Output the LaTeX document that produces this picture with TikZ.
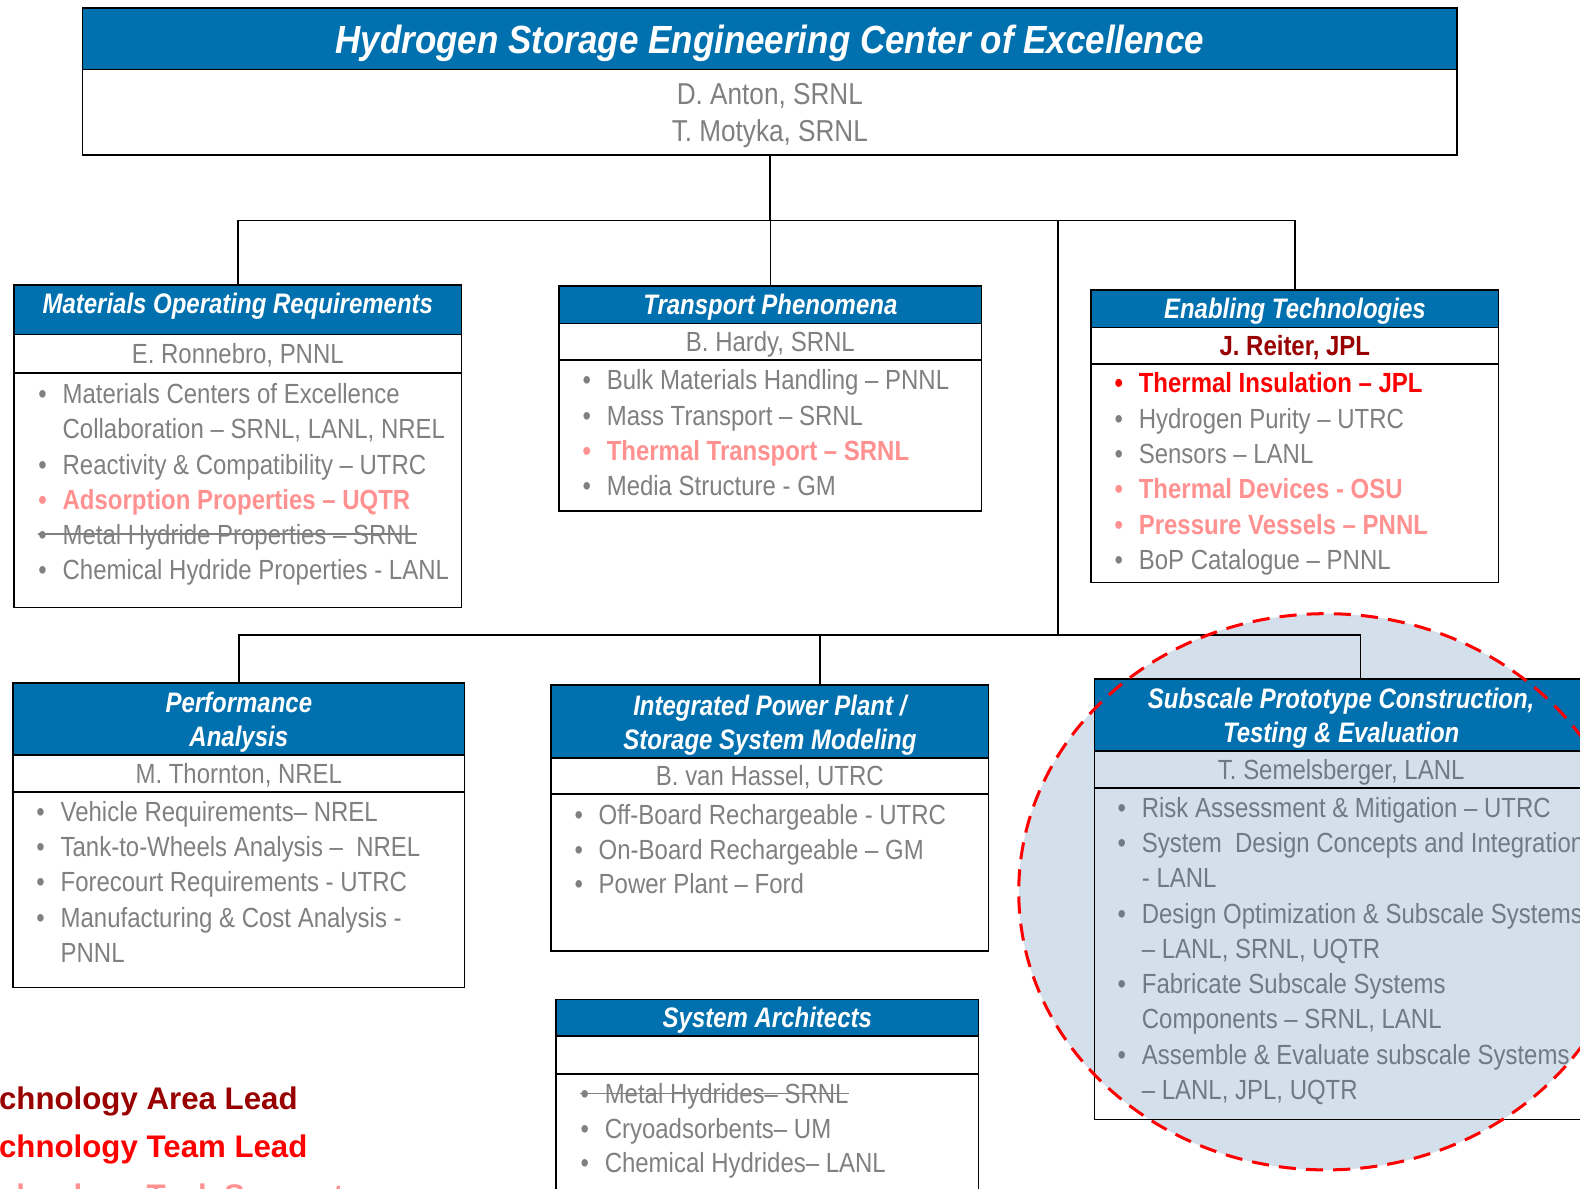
\documentclass[tikz,border=0pt]{standalone}
\usepackage{fontspec}
\setmainfont[FakeStretch=0.865]{Liberation Sans}
\newfontfamily\hdrfam[FakeStretch=0.85]{Liberation Sans}
\newfontfamily\ttlfont[FakeStretch=0.89]{Liberation Sans}
\newfontfamily\legfont{Liberation Sans}

\definecolor{hdrblue}{RGB}{0,112,175}
\definecolor{txtgray}{RGB}{128,128,128}
\definecolor{taskpink}{RGB}{255,145,145}
\definecolor{teamred}{RGB}{255,0,0}
\definecolor{areared}{RGB}{153,0,0}
\definecolor{spcfill}{RGB}{211,223,235}
\definecolor{spcgray}{RGB}{112,122,134}

\newcommand{\bodyfont}{\fontsize{27.5}{35}\selectfont}
\newcommand{\hdrfont}{\hdrfam\fontsize{28}{34}\selectfont\bfseries\itshape}
\newcommand{\bul}{\makebox[24pt][l]{\textbullet}}
\newcommand{\nob}{\hspace*{24pt}}
\newcommand{\lift}{\rule{0pt}{27pt}}

\tikzset{
	box/.style={draw=black, line width=1.6pt, inner sep=0pt, outer sep=0pt, anchor=north west},
	hdr/.style={box, fill=hdrblue, text=white, font=\hdrfont, align=center},
	who/.style={box, fill=white, text=txtgray, font=\bodyfont, align=center},
	one/.style={text height=20pt, text depth=0pt},
	lst/.style={box, fill=white},
	itm/.style={anchor=west, inner sep=0pt, text height=20pt, text depth=0pt, font=\bodyfont, text=txtgray},
	task/.style={itm, text=taskpink, font=\bodyfont\bfseries},
	wire/.style={draw=black, line width=1.6pt},
	gone/.style={draw=txtgray, line width=1.4pt},
	legend/.style={anchor=west, inner sep=0pt, text height=22pt, text depth=0pt, font=\legfont\fontsize{31}{31}\selectfont\bfseries},
}

\begin{document}
\begin{tikzpicture}[x=1pt,y=-1pt]
	\useasboundingbox (0,0) rectangle (1568,1179);
	\clip (0,0) rectangle (1568,1179);

	% highlight behind the prototype group
	\fill[spcfill] (1316,885) ellipse [x radius=305pt, y radius=276pt];

	% bus points
	\coordinate (bus1) at (764,219);
	\coordinate (bus2) at (1050,630);
	\coordinate (ipp-in) at (814,680);
	\coordinate (spc-in) at (1350,674);

	% center
	\node[hdr, minimum width=1364pt, minimum height=61pt, text height=29pt, text depth=0pt, font=\ttlfont\fontsize{39}{39}\selectfont\bfseries\itshape] (top-h) at (82,8) {Hydrogen Storage Engineering Center of Excellence};
	\node[who, minimum width=1364pt, minimum height=85pt, font=\fontsize{30}{37}\selectfont] (top-n) at (top-h.south west) {\rule{0pt}{28pt}D. Anton, SRNL\\T. Motyka, SRNL};

	% upper row
	\node[hdr, minimum width=444pt, minimum height=49pt, text height=20pt, text depth=12pt] (mor-h) at (14,283) {Materials Operating Requirements};
	\node[who, one, minimum width=444pt, minimum height=38pt] (mor-n) at (mor-h.south west) {E. Ronnebro, PNNL};
	\node[lst, minimum width=444pt, minimum height=233pt] (mor-b) at (mor-n.south west) {};

	\node[hdr, one, minimum width=419pt, minimum height=37pt] (tp-h) at (555,284) {Transport Phenomena};
	\node[who, one, minimum width=419pt, minimum height=36pt] (tp-n) at (tp-h.south west) {B. Hardy, SRNL};
	\node[lst, minimum width=419pt, minimum height=150pt] (tp-b) at (tp-n.south west) {};

	\node[hdr, one, minimum width=404pt, minimum height=37pt] (et-h) at (1083,288) {Enabling Technologies};
	\node[who, one, minimum width=404pt, minimum height=36pt, text=areared, font=\bodyfont\bfseries] (et-n) at (et-h.south west) {J. Reiter, JPL};
	\node[lst, minimum width=404pt, minimum height=217pt] (et-b) at (et-n.south west) {};

	% lower row
	\node[hdr, minimum width=448pt, minimum height=71pt] (pa-h) at (13,678) {\lift Performance\\Analysis};
	\node[who, one, minimum width=448pt, minimum height=37pt] (pa-n) at (pa-h.south west) {M. Thornton, NREL};
	\node[lst, minimum width=448pt, minimum height=194pt] (pa-b) at (pa-n.south west) {};

	\node[hdr, minimum width=434pt, minimum height=72pt] (ipp-h) at (547,680) {\lift Integrated Power Plant /\\Storage System Modeling};
	\node[who, one, minimum width=434pt, minimum height=36pt] (ipp-n) at (ipp-h.south west) {B. van Hassel, UTRC};
	\node[lst, minimum width=434pt, minimum height=156pt] (ipp-b) at (ipp-n.south west) {};

	\node[hdr, one, minimum width=419pt, minimum height=36pt] (sa-h) at (552,992) {System Architects};
	\node[who, minimum width=419pt, minimum height=38pt] (sa-n) at (sa-h.south west) {};
	\node[lst, minimum width=419pt, minimum height=140pt] (sa-b) at (sa-n.south west) {};

	\node[hdr, minimum width=490pt, minimum height=71pt] (spc-h) at (1086,674) {\lift Subscale Prototype Construction,\\Testing \& Evaluation};
	\node[box, one, minimum width=490pt, minimum height=37pt, text=spcgray, font=\bodyfont] (spc-n) at (spc-h.south west) {T. Semelsberger, LANL};
	\node[box, minimum width=490pt, minimum height=329pt] (spc-b) at (spc-n.south west) {};

	% connectors
	\draw[wire] (top-n.south) -- (bus1);
	\draw[wire] (mor-h.north) -- (mor-h.north |- bus1) -- (et-h.north |- bus1) -- (et-h.north);
	\draw[wire] (tp-h.north) -- (tp-h.north |- bus1);
	\draw[wire] (bus2 |- bus1) -- (bus2);
	\draw[wire] (pa-h.north) -- (pa-h.north |- bus2) -- (spc-in |- bus2) -- (spc-in);
	\draw[wire] (ipp-in) -- (ipp-in |- bus2);

	% Materials Operating Requirements
	\node[itm] (mor1) at (38,390) {\bul Materials Centers of Excellence};
	\node[itm] (mor2) at (38,425) {\nob Collaboration – SRNL, LANL, NREL};
	\node[itm] (mor3) at (38,461) {\bul Reactivity \& Compatibility – UTRC};
	\node[task] (mor4) at (38,496) {\bul Adsorption Properties – UQTR};
	\node[itm] (mor5) at (38,530) {\bul Metal Hydride Properties – SRNL};
	\node[itm] (mor6) at (38,565) {\bul Chemical Hydride Properties - LANL};
	\draw[gone] (mor5.west) -- (mor5.east);

	% Transport Phenomena
	\node[itm] (tp1) at (578,377) {\bul Bulk Materials Handling – PNNL};
	\node[itm] (tp2) at (578,412) {\bul Mass Transport – SRNL};
	\node[task] (tp3) at (578,447) {\bul Thermal Transport – SRNL};
	\node[itm] (tp4) at (578,482) {\bul Media Structure - GM};

	% Enabling Technologies
	\node[task, text=teamred] (et1) at (1106,380) {\bul Thermal Insulation – JPL};
	\node[itm] (et2) at (1106,415) {\bul Hydrogen Purity – UTRC};
	\node[itm] (et3) at (1106,450) {\bul Sensors – LANL};
	\node[task] (et4) at (1106,485) {\bul Thermal Devices - OSU};
	\node[task] (et5) at (1106,520) {\bul Pressure Vessels – PNNL};
	\node[itm] (et6) at (1106,555) {\bul BoP Catalogue – PNNL};

	% Performance Analysis
	\node[itm] (pa1) at (36,805) {\bul Vehicle Requirements– NREL};
	\node[itm] (pa2) at (36,840) {\bul Tank-to-Wheels Analysis –\ \ NREL};
	\node[itm] (pa3) at (36,875) {\bul Forecourt Requirements - UTRC};
	\node[itm] (pa4) at (36,910) {\bul Manufacturing \& Cost Analysis -};
	\node[itm] (pa5) at (36,945) {\nob PNNL};

	% Power Plant / Storage Modeling
	\node[itm] (ipp1) at (570,808) {\bul Off-Board Rechargeable - UTRC};
	\node[itm] (ipp2) at (570,843) {\bul On-Board Rechargeable – GM};
	\node[itm] (ipp3) at (570,877) {\bul Power Plant – Ford};

	% System Architects
	\node[itm] (sa1) at (576,1085) {\bul Metal Hydrides– SRNL};
	\node[itm] (sa2) at (576,1120) {\bul Cryoadsorbents– UM};
	\node[itm] (sa3) at (576,1154) {\bul Chemical Hydrides– LANL};
	\draw[gone] (sa1.west) -- (sa1.east);

	% Subscale Prototype
	\node[itm, text=spcgray] (spc1) at (1109,801) {\bul Risk Assessment \& Mitigation – UTRC};
	\node[itm, text=spcgray] (spc2) at (1109,836) {\bul System\ \ Design Concepts and Integration};
	\node[itm, text=spcgray] (spc3) at (1109,871) {\nob - LANL};
	\node[itm, text=spcgray] (spc4) at (1109,906) {\bul Design Optimization \& Subscale Systems};
	\node[itm, text=spcgray] (spc5) at (1109,941) {\nob – LANL, SRNL, UQTR};
	\node[itm, text=spcgray] (spc6) at (1109,976) {\bul Fabricate Subscale Systems};
	\node[itm, text=spcgray] (spc7) at (1109,1011) {\nob Components – SRNL, LANL};
	\node[itm, text=spcgray] (spc8) at (1109,1046) {\bul Assemble \& Evaluate subscale Systems};
	\node[itm, text=spcgray] (spc9) at (1109,1081) {\nob – LANL, JPL, UQTR};

	\draw[teamred, line width=3pt, dash pattern=on 17pt off 10pt] (1316,885) ellipse [x radius=305pt, y radius=276pt];

	% key
	\node[legend, text=areared] (key1) at (-35,1090) {Technology Area Lead};
	\node[legend, text=teamred] (key2) at (-35,1138) {Technology Team Lead};
	\node[legend, text=taskpink] (key3) at (-35,1186) {Technology Task Support};
\end{tikzpicture}
\end{document}
